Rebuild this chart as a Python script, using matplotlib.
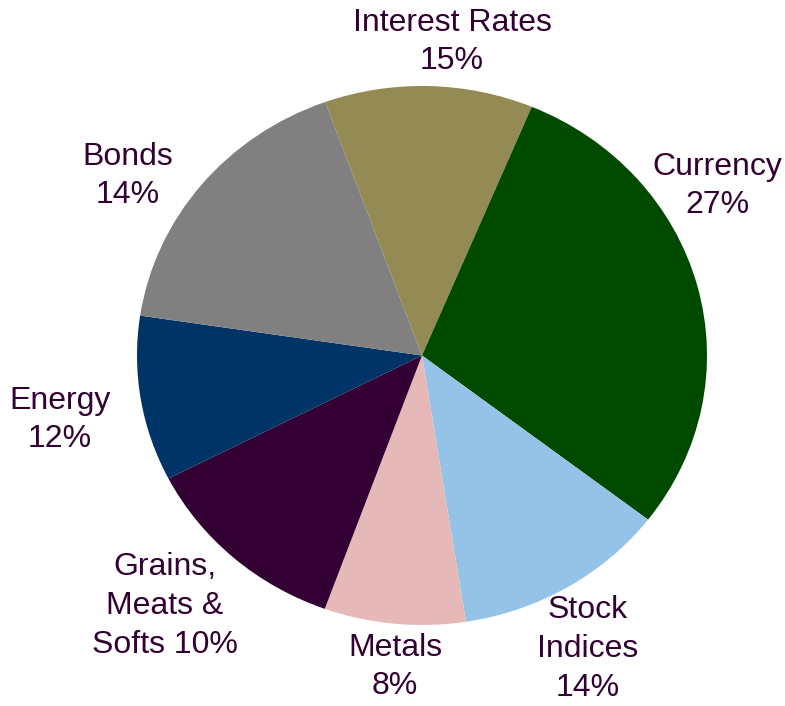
import matplotlib
matplotlib.use('Agg')
from matplotlib import pyplot as plt

# slice shares (angles), labels as printed
sectors = ['Interest Rates', 'Currency', 'Stock Indices', 'Metals',
           'Grains, Meats & Softs', 'Energy', 'Bonds']
shares = [11.8, 29.1, 12.1, 8.0, 11.9, 9.9, 17.1]
label_text = ['Interest Rates\n15%', 'Currency\n27%', 'Stock\nIndices\n14%',
              'Metals\n8%', 'Grains,\nMeats &\nSofts 10%', 'Energy\n12%',
              'Bonds\n14%']
colors = ['#948A54', '#004A00', '#95C3E8', '#E6B8B7', '#330033',
          '#003366', '#808080']

# label centres in pixels (x, y from top)
label_px = [(452, 42), (717, 186), (588, 649), (395, 667),
            (165, 606), (60, 420), (128, 176)]

W, H = 785, 706
fig = plt.figure(figsize=(W / 100, H / 100), dpi=100)
plt.rcParams['font.family'] = ['Liberation Sans', 'DejaVu Sans']

# pie is slightly wider than tall in the reference
ax = fig.add_axes([137 / W, 81 / H, 570 / W, 539 / H])
ax.pie(shares, colors=colors, startangle=109.87, counterclock=False,
       wedgeprops=dict(linewidth=0))
ax.set_aspect('auto')
ax.set_xlim(-1, 1)
ax.set_ylim(-1, 1)
ax.axis('off')

for txt, (px, py) in zip(label_text, label_px):
    fig.text(px / W, 1 - py / H, txt, ha='center', va='center',
             fontsize=23, color='#330033', linespacing=1.38)

fig.savefig('out.png', dpi=100)
